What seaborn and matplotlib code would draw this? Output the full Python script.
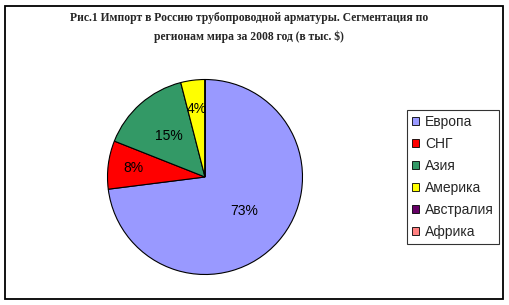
import matplotlib
matplotlib.use("Agg")
import matplotlib.pyplot as plt
from matplotlib.patches import Rectangle
import numpy as np
import seaborn as sns

sns.set_theme(style="white")
plt.rcParams['font.family'] = ['Liberation Sans', 'DejaVu Sans']

title = "Рис.1 Импорт в Россию трубопроводной арматуры. Сегментация по\nрегионам мира за 2008 год (в тыс. $)"
regions = ["Европа", "СНГ", "Азия", "Америка", "Австралия", "Африка"]
shares = [73, 8, 15, 4, 0, 0]
colors = ["#9999FF", "#FF0000", "#339966", "#FFFF00", "#660066", "#FF8080"]
label_dist = [0.53, 0.74, 0.56, 0.70, 0.6, 0.6]

palette = sns.color_palette(colors)

W, H = 509, 305
fig = plt.figure(figsize=(W / 100, H / 100), dpi=100)
fig.patch.set_facecolor("white")

# outer chart border
fig.patches.append(Rectangle((5 / W, 6 / H), 497.5 / W, 293.5 / H, transform=fig.transFigure,
                             fill=False, edgecolor="black", linewidth=1.3, figure=fig))

cx, cy, r = 205, 177, 97.5
ax = fig.add_axes([(cx - r) / W, (H - cy - r) / H, 2 * r / W, 2 * r / H])

def fmt(p):
    return f"{p:.0f}%" if p >= 0.5 else ""

wedges, texts, autotexts = ax.pie(
    shares, colors=palette, startangle=90, counterclock=False,
    autopct=fmt, pctdistance=0.6,
    wedgeprops=dict(edgecolor="black", linewidth=0.8),
    textprops=dict(fontsize=10, color="black"))
for w, t, d in zip(wedges, autotexts, label_dist):
    ang = np.deg2rad((w.theta1 + w.theta2) / 2)
    t.set_position((d * np.cos(ang), d * np.sin(ang)))
ax.set_xlim(-1.0, 1.0)
ax.set_ylim(-1.0, 1.0)
ax.set_aspect("equal")
ax.axis("off")

fig.text(0.49, 1 - 27.5 / H, title, ha="center", va="center", fontsize=8.4,
         fontweight="bold", family=["Liberation Serif", "DejaVu Serif"], linespacing=1.75)

leg = fig.legend(wedges, regions, loc="upper left",
                 bbox_to_anchor=(407 / W, 1 - 110 / H), bbox_transform=fig.transFigure,
                 fontsize=10, frameon=True, fancybox=False, borderaxespad=0,
                 handlelength=0.5, handleheight=0.5, handletextpad=0.45,
                 labelspacing=0.58, borderpad=0.35)
leg.get_frame().set_edgecolor("black")
leg.get_frame().set_linewidth(0.8)
for h in leg.legend_handles:
    h.set_edgecolor("black")
    h.set_linewidth(0.6)

fig.savefig("out.png", dpi=100, facecolor="white")
